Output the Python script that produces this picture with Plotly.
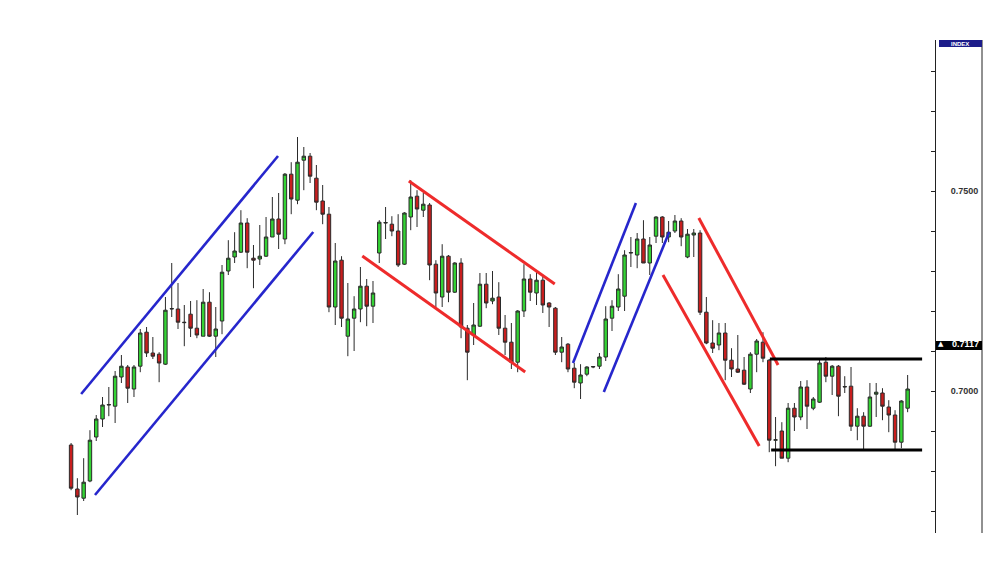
import plotly.graph_objects as go

# ---- candle data (price) ----
opens = [0.6865,0.6755,0.6732,0.6775,0.6885,0.6930,0.6965,0.6962,0.7035,0.7060,
         0.7005,0.7062,0.7147,0.7095,0.7092,0.7067,0.7205,0.7205,0.7172,0.7192,
         0.7157,0.7137,0.7222,0.7137,0.7175,0.7300,0.7335,0.7347,0.7420,0.7332,
         0.7330,0.7337,0.7385,0.7430,0.7380,0.7542,0.7477,0.7577,0.7587,0.7532,
         0.7475,0.7442,0.7210,0.7327,0.7137,0.7182,0.7205,0.7262,0.7212,0.7345,
         0.7420,0.7417,0.7400,0.7317,0.7435,0.7487,0.7452,0.7465,0.7317,0.7235,
         0.7337,0.7247,0.7320,0.7157,0.7140,0.7162,0.7267,0.7225,0.7235,0.7157,
         0.7122,0.7072,0.7200,0.7280,0.7245,0.7277,0.7220,0.7207,0.7097,0.7117,
         0.7057,0.7020,0.7042,0.7060,0.7062,0.7085,0.7182,0.7210,0.7237,0.7345,
         0.7340,0.7380,0.7320,0.7387,0.7435,0.7385,0.7400,0.7425,0.7335,0.7390,
         0.7395,0.7197,0.7120,0.7115,0.7145,0.7077,0.7055,0.7052,0.7005,0.7092,
         0.7122,0.7077,0.6877,0.6900,0.6832,0.6957,0.6935,0.7010,0.6957,0.6972,
         0.7072,0.7037,0.7062,0.7010,0.7012,0.6912,0.6937,0.6912,0.6992,0.6995,
         0.6960,0.6940,0.6872,0.6957]
highs = [0.6870,0.6782,0.6832,0.6902,0.6940,0.6985,0.7010,0.7050,0.7090,0.7065,
         0.7065,0.7155,0.7160,0.7135,0.7097,0.7235,0.7320,0.7270,0.7215,0.7225,
         0.7227,0.7255,0.7247,0.7210,0.7315,0.7377,0.7397,0.7452,0.7432,0.7365,
         0.7415,0.7435,0.7485,0.7495,0.7545,0.7572,0.7635,0.7610,0.7595,0.7565,
         0.7515,0.7460,0.7370,0.7337,0.7270,0.7237,0.7310,0.7280,0.7275,0.7427,
         0.7460,0.7437,0.7442,0.7447,0.7527,0.7502,0.7495,0.7470,0.7327,0.7367,
         0.7340,0.7322,0.7332,0.7165,0.7220,0.7295,0.7295,0.7300,0.7272,0.7190,
         0.7170,0.7202,0.7317,0.7292,0.7297,0.7287,0.7222,0.7210,0.7135,0.7120,
         0.7070,0.7067,0.7062,0.7062,0.7095,0.7212,0.7227,0.7292,0.7352,0.7385,
         0.7395,0.7427,0.7385,0.7437,0.7437,0.7425,0.7440,0.7432,0.7405,0.7405,
         0.7402,0.7235,0.7177,0.7170,0.7170,0.7107,0.7140,0.7085,0.7097,0.7130,
         0.7147,0.7080,0.6935,0.6922,0.6970,0.6970,0.7025,0.7027,0.6985,0.7082,
         0.7085,0.7065,0.7065,0.7037,0.7060,0.6957,0.6947,0.7020,0.7020,0.7007,
         0.6977,0.6952,0.6977,0.7040]
lows = [0.6752,0.6690,0.6725,0.6772,0.6875,0.6910,0.6937,0.6920,0.7020,0.6970,
        0.6985,0.7047,0.7085,0.7080,0.7022,0.7065,0.7185,0.7155,0.7112,0.7135,
        0.7132,0.7137,0.7135,0.7085,0.7142,0.7290,0.7320,0.7345,0.7307,0.7257,
        0.7315,0.7335,0.7385,0.7355,0.7367,0.7442,0.7467,0.7502,0.7520,0.7452,
        0.7417,0.7197,0.7165,0.7160,0.7087,0.7100,0.7172,0.7162,0.7170,0.7320,
        0.7380,0.7387,0.7310,0.7315,0.7402,0.7410,0.7435,0.7277,0.7210,0.7210,
        0.7222,0.7245,0.7132,0.7027,0.7115,0.7160,0.7207,0.7217,0.7140,0.7090,
        0.7055,0.7047,0.7185,0.7225,0.7215,0.7195,0.7160,0.7090,0.7072,0.7047,
        0.7007,0.6980,0.7037,0.7057,0.7055,0.7075,0.7150,0.7200,0.7200,0.7310,
        0.7307,0.7320,0.7290,0.7370,0.7370,0.7372,0.7395,0.7362,0.7332,0.7335,
        0.7190,0.7117,0.7095,0.7102,0.7027,0.7035,0.7045,0.7015,0.6995,0.7047,
        0.7072,0.6847,0.6812,0.6832,0.6822,0.6900,0.6927,0.6905,0.6952,0.6970,
        0.7022,0.6990,0.6937,0.6995,0.6900,0.6877,0.6852,0.6910,0.6935,0.6927,
        0.6897,0.6855,0.6857,0.6947]
closes = [0.6757,0.6735,0.6772,0.6877,0.6930,0.6965,0.6966,0.7037,0.7062,0.7007,
          0.7060,0.7145,0.7095,0.7087,0.7070,0.7202,0.7206,0.7172,0.7171,0.7157,
          0.7140,0.7222,0.7137,0.7155,0.7297,0.7332,0.7350,0.7420,0.7347,0.7327,
          0.7337,0.7385,0.7430,0.7392,0.7542,0.7480,0.7572,0.7587,0.7537,0.7472,
          0.7442,0.7210,0.7325,0.7182,0.7180,0.7205,0.7262,0.7212,0.7245,0.7422,
          0.7421,0.7400,0.7315,0.7445,0.7485,0.7455,0.7467,0.7315,0.7245,0.7337,
          0.7247,0.7320,0.7160,0.7097,0.7165,0.7267,0.7220,0.7232,0.7157,0.7122,
          0.7072,0.7200,0.7280,0.7247,0.7277,0.7215,0.7210,0.7097,0.7110,0.7055,
          0.7022,0.7040,0.7060,0.7061,0.7085,0.7180,0.7212,0.7255,0.7340,0.7346,
          0.7380,0.7320,0.7365,0.7435,0.7385,0.7397,0.7425,0.7385,0.7392,0.7395,
          0.7197,0.7120,0.7107,0.7145,0.7077,0.7055,0.7047,0.7017,0.7092,0.7125,
          0.7082,0.6877,0.6878,0.6832,0.6957,0.6935,0.7010,0.6962,0.6980,0.7070,
          0.7037,0.7062,0.6987,0.7011,0.6912,0.6937,0.6912,0.6985,0.6997,0.6962,
          0.6940,0.6872,0.6975,0.7005]
bars = list(range(len(opens)))

# ---- trend lines: (bar index, price) endpoints ----
blue_lines = [
    [(1.6, 0.69925), (32.9, 0.75875)],
    [(3.8, 0.6740), (38.5, 0.73975)],
    [(79.8, 0.7070), (89.8, 0.7470)],
    [(84.7, 0.69975), (95.1, 0.73975)],
]
red_lines = [
    [(53.7, 0.7525), (76.9, 0.72675)],
    [(46.3, 0.73375), (72.2, 0.70475)],
    [(99.8, 0.74325), (112.4, 0.7065)],
    [(94.1, 0.7290), (109.4, 0.68625)],
]
black_lines = [
    [(111.1, 0.7080), (135.3, 0.7080)],
    [(111.3, 0.68525), (135.3, 0.68525)],
]

# ---- axis ----
tick_vals = [0.67, 0.68, 0.69, 0.70, 0.71, 0.72, 0.73, 0.74, 0.75, 0.76, 0.77, 0.78]
tick_text = ["", "", "", "0.7000", "", "", "", "", "0.7500", "", "", ""]
last_price = 0.7117
axis_title = "INDEX"

fig = go.Figure()
fig.add_trace(go.Candlestick(
    x=bars, open=opens, high=highs, low=lows, close=closes,
    increasing=dict(fillcolor="#34d334", line=dict(color="#2a2a2a", width=1)),
    decreasing=dict(fillcolor="#c81e1e", line=dict(color="#2a2a2a", width=1)),
    whiskerwidth=0, showlegend=False, hoverinfo="skip"))

for group, col, w in [(blue_lines, "#2626cc", 2.6), (red_lines, "#ee2b2b", 3), (black_lines, "#000000", 3)]:
    for seg in group:
        fig.add_trace(go.Scatter(x=[p[0] for p in seg], y=[p[1] for p in seg], mode="lines",
                                 line=dict(color=col, width=w), showlegend=False, hoverinfo="skip"))

PW = 935.0
PH = 493.0
def px(xp):
    return xp / PW

fig.update_layout(
    width=1006, height=583,
    margin=dict(l=0, r=71, t=40, b=50),
    paper_bgcolor="white", plot_bgcolor="white",
    boxgap=0.22,
    xaxis=dict(range=[-11.3, 137.35], visible=False, rangeslider=dict(visible=False)),
    yaxis=dict(range=[0.6645, 0.78775], side="right", showgrid=False, zeroline=False,
               showline=True, linecolor="#222222", linewidth=1,
               ticks="inside", ticklen=4, tickcolor="#222222",
               tickvals=tick_vals, ticktext=tick_text, ticklabelstandoff=13,
               tickfont=dict(family="Liberation Sans, Arial", size=9, color="#333333", weight="bold")),
    shapes=[
        dict(type="line", xref="paper", yref="paper", x0=px(982), x1=px(982), y0=0, y1=1,
             line=dict(color="#222222", width=1)),
        dict(type="rect", xref="paper", yref="paper", x0=px(939), x1=px(982),
             y0=(PH - 7) / PH, y1=1.0, fillcolor="#1c1c8a", line=dict(width=0)),
        dict(type="rect", xref="paper", yref="y", x0=px(936), x1=px(982),
             y0=0.71025, y1=0.7125, fillcolor="#000000", line=dict(width=0)),
    ],
    annotations=[
        dict(xref="paper", yref="paper", x=px(960), y=(PH - 3.5) / PH, text=axis_title,
             showarrow=False, font=dict(family="Liberation Sans, Arial", size=6, color="white", weight="bold"),
             xanchor="center", yanchor="middle"),
        dict(xref="paper", yref="y", x=px(941), y=last_price, text="▲",
             showarrow=False, font=dict(family="DejaVu Sans", size=7, color="white"),
             xanchor="center", yanchor="middle"),
        dict(xref="paper", yref="y", x=px(981), y=last_price, text=f"{last_price:.4f}",
             showarrow=False, font=dict(family="Liberation Sans, Arial", size=9, color="white", weight="bold"),
             xanchor="right", yanchor="middle"),
    ],
)

fig.write_html("out.html", config={"displayModeBar": False},
               post_script="document.body.style.margin='0';")
